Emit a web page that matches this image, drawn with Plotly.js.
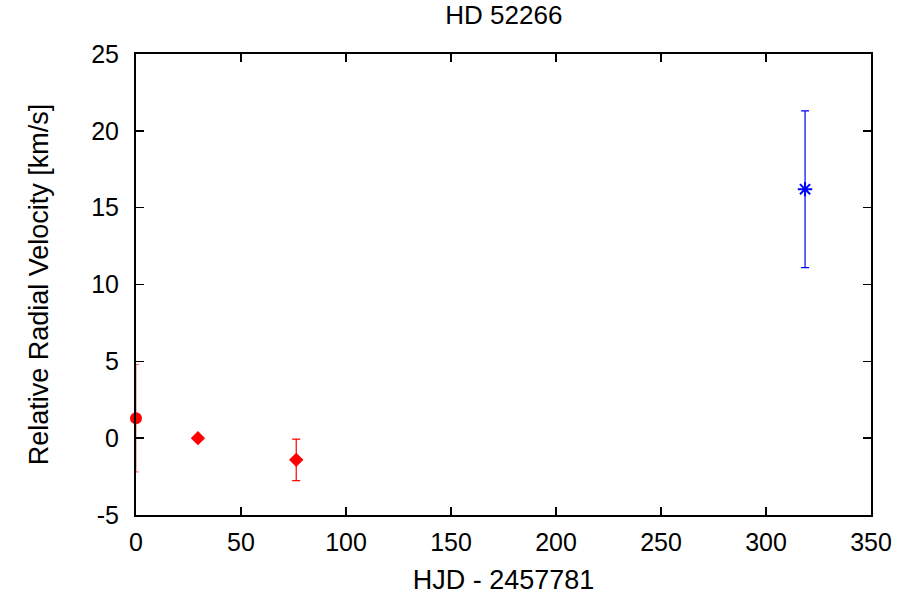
<!DOCTYPE html>
<html>
<head>
<meta charset="utf-8">
<script src="https://cdn.plot.ly/plotly-3.0.1.min.js"></script>
<style>html,body{margin:0;padding:0;background:#fff;}#plot{width:903px;height:605px;}</style>
</head>
<body>
<div id="plot"></div>
<script>
// Series 1: red circle
const circX = [0];
const circY = [1.3];
const circErr = [3.5];
// Series 2: red diamonds
const diaX = [29.5, 76.3];
const diaY = [0.0, -1.41];
const diaErr = [0.0, 1.35];
// Series 3: blue star
const starX = [318.6];
const starY = [16.2];
const starErr = [5.1];

const xTicks = [0, 50, 100, 150, 200, 250, 300, 350];
const yTicks = [-5, 0, 5, 10, 15, 20, 25];

const FONT = 'Liberation Sans, Arial, sans-serif';

const traces = [
  {x: circX, y: circY, type: 'scatter', mode: 'markers', cliponaxis: false,
   marker: {symbol: 'circle', size: 12, color: '#ff0000'},
   error_y: {type: 'data', array: circErr, visible: true, color: 'rgba(255,0,0,0.6)', thickness: 1, width: 3}},
  {x: diaX, y: diaY, type: 'scatter', mode: 'markers', cliponaxis: false,
   marker: {symbol: 'diamond', size: 11, color: '#ff0000'},
   error_y: {type: 'data', array: diaErr, visible: true, color: '#ff0000', thickness: 1.2, width: 4}},
  {x: starX, y: starY, type: 'scatter', mode: 'markers', cliponaxis: false,
   marker: {symbol: 'asterisk-open', size: 12, color: '#0000ff', line: {color: '#0000ff', width: 2}},
   error_y: {type: 'data', array: starErr, visible: true, color: '#0000ff', thickness: 1.2, width: 4}}
];

const axisCommon = {
  showgrid: false, zeroline: false, showline: true, linecolor: '#000', linewidth: 2,
  mirror: 'allticks', ticks: 'inside', ticklen: 8, tickwidth: 1.5, tickcolor: '#000',
  tickfont: {family: FONT, size: 25, color: '#000'}
};

const layout = {
  width: 903, height: 605,
  paper_bgcolor: '#fff', plot_bgcolor: '#fff',
  margin: {l: 136, r: 32, t: 54, b: 90},
  showlegend: false,
  title: {text: 'HD 52266', font: {family: FONT, size: 26, color: '#000'},
          x: 0.558, xanchor: 'center', y: 0.975, yanchor: 'middle', yref: 'container'},
  xaxis: Object.assign({}, axisCommon, {
    range: [0, 350], tickvals: xTicks, ticktext: xTicks.map(String), ticklabelstandoff: 4,
    title: {text: 'HJD - 2457781', standoff: 15, font: {family: FONT, size: 27, color: '#000'}}
  }),
  yaxis: Object.assign({}, axisCommon, {
    range: [-5, 25], tickvals: yTicks, ticktext: yTicks.map(String), ticklabelstandoff: 10,
    title: {text: 'Relative Radial Velocity [km/s]', standoff: 35, font: {family: FONT, size: 27, color: '#000'}}
  })
};

Plotly.newPlot('plot', traces, layout, {displayModeBar: false, staticPlot: true});
</script>
</body>
</html>
